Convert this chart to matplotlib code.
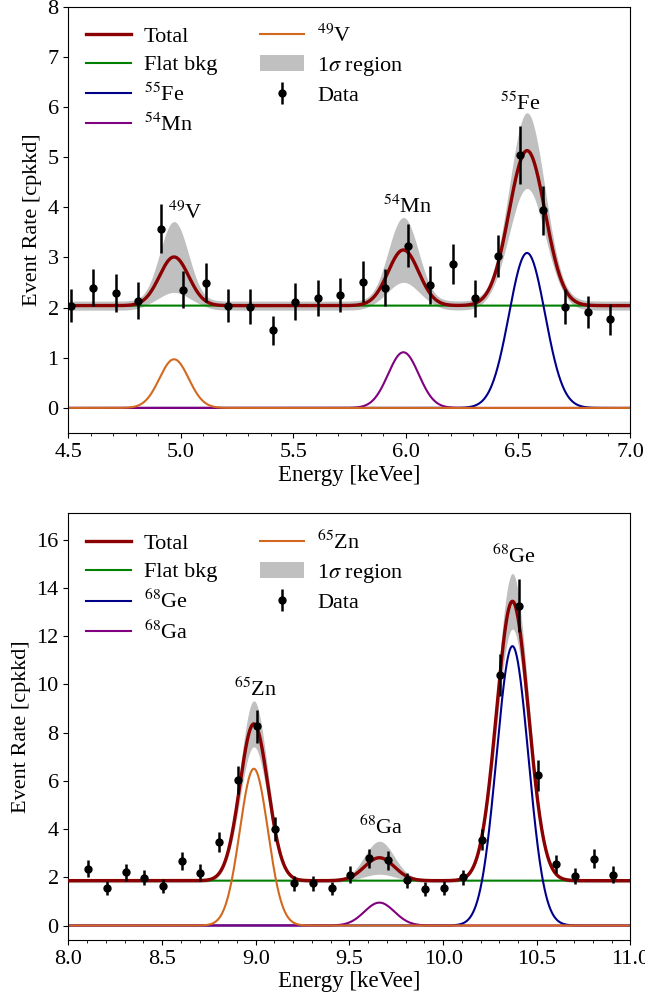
import numpy as np
import matplotlib.pyplot as plt
from matplotlib.ticker import MultipleLocator

plt.rcParams["font.family"] = ["Liberation Serif", "DejaVu Serif"]
plt.rcParams["mathtext.fontset"] = "stix"

# ---- 4.5-7.0 keVee window ----
e_low = [4.51, 4.61, 4.71, 4.81, 4.91, 5.01, 5.11, 5.21, 5.31, 5.41, 5.51, 5.61, 5.71,
         5.81, 5.91, 6.01, 6.11, 6.21, 6.31, 6.41, 6.51, 6.61, 6.71, 6.81, 6.91]
rate_low = [2.04, 2.40, 2.30, 2.14, 3.57, 2.36, 2.50, 2.04, 2.02, 1.55, 2.12, 2.20, 2.25,
            2.52, 2.40, 3.23, 2.45, 2.87, 2.19, 3.03, 5.05, 3.94, 2.02, 1.92, 1.77]
err_low = [0.33, 0.37, 0.38, 0.37, 0.49, 0.37, 0.39, 0.33, 0.35, 0.29, 0.37, 0.36, 0.34,
           0.40, 0.37, 0.43, 0.37, 0.40, 0.37, 0.41, 0.58, 0.49, 0.35, 0.32, 0.31]
bkg_low, bkg_err_low = 2.04, 0.09
# peak fit results: name, centre, sigma, amplitude, amplitude error, colour
peaks_low = [
    ("$^{55}$Fe", 6.54, 0.080, 3.09, 0.75, "darkblue"),
    ("$^{54}$Mn", 5.99, 0.068, 1.11, 0.64, "purple"),
    ("$^{49}$V", 4.97, 0.065, 0.97, 0.70, "chocolate"),
]
labels_low = [("$^{49}$V", 5.02, 3.90), ("$^{54}$Mn", 6.01, 4.02), ("$^{55}$Fe", 6.51, 6.07)]

# ---- 8.0-11.0 keVee window ----
e_high = [8.105, 8.205, 8.305, 8.405, 8.505, 8.605, 8.705, 8.805, 8.905, 9.005, 9.105,
          9.205, 9.305, 9.405, 9.505, 9.605, 9.705, 9.805, 9.905, 10.005, 10.105, 10.205,
          10.305, 10.405, 10.505, 10.605, 10.705, 10.805, 10.905]
rate_high = [2.36, 1.57, 2.20, 1.98, 1.62, 2.66, 2.19, 3.46, 6.03, 8.26, 4.00,
             1.75, 1.75, 1.54, 2.11, 2.78, 2.70, 1.87, 1.52, 1.54, 2.00, 3.55,
             10.37, 13.26, 6.23, 2.56, 2.05, 2.77, 2.11]
err_high = [0.34, 0.29, 0.36, 0.32, 0.29, 0.37, 0.34, 0.43, 0.58, 0.68, 0.48,
            0.30, 0.31, 0.27, 0.34, 0.40, 0.38, 0.32, 0.29, 0.29, 0.32, 0.44,
            0.87, 1.10, 0.65, 0.38, 0.34, 0.40, 0.34]
bkg_high, bkg_err_high = 1.86, 0.08
peaks_high = [
    ("$^{68}$Ge", 10.37, 0.085, 11.58, 1.15, "darkblue"),
    ("$^{68}$Ga", 9.66, 0.080, 0.95, 0.68, "purple"),
    ("$^{65}$Zn", 8.99, 0.075, 6.50, 0.95, "chocolate"),
]
labels_high = [("$^{65}$Zn", 9.00, 9.80), ("$^{68}$Ga", 9.67, 4.05), ("$^{68}$Ge", 10.38, 15.30)]


def gauss(x, mu, sig, amp):
    return amp * np.exp(-0.5 * ((x - mu) / sig) ** 2)


def draw_panel(ax, xr, energy, rate, err, bkg, bkg_err, peaks, labels, ylim, ymajor):
    x = np.linspace(xr[0], xr[1], 1500)
    shapes = [gauss(x, mu, s, a) for _, mu, s, a, _, _ in peaks]
    total = bkg + np.sum(shapes, axis=0)
    var = bkg_err ** 2 + sum((gauss(x, mu, s, 1.0) * da) ** 2 for _, mu, s, _, da, _ in peaks)
    band = np.sqrt(var)

    ax.fill_between(x, total - band, total + band, color="silver", lw=0, zorder=1,
                    label=r"1$\sigma$ region")
    ax.plot(x, total, color="darkred", lw=2.4, zorder=3, label="Total")
    ax.plot(x, np.full_like(x, bkg), color="green", lw=1.5, zorder=2, label="Flat bkg")
    for (name, *_, col), y in zip(peaks, shapes):
        ax.plot(x, y, color=col, lw=1.5, zorder=2, label=name)
    ax.errorbar(energy, rate, yerr=err, fmt="o", color="black", ms=5, elinewidth=1.8,
                capsize=0, zorder=4, label="Data")

    for txt, lx, ly in labels:
        ax.text(lx, ly, txt, ha="center", va="center", fontsize=16)

    ax.set_xlim(*xr)
    ax.set_ylim(*ylim)
    ax.xaxis.set_major_locator(MultipleLocator(0.5))
    ax.xaxis.set_minor_locator(MultipleLocator(0.1))
    ax.yaxis.set_major_locator(MultipleLocator(ymajor))
    ax.tick_params(labelsize=16)
    ax.set_xlabel("Energy [keVee]", fontsize=16.5, labelpad=2)
    ax.set_ylabel("Event Rate [cpkkd]", fontsize=16, labelpad=4)

    h, l = ax.get_legend_handles_labels()
    order = ["Total", "Flat bkg"] + [p[0] for p in peaks] + [r"1$\sigma$ region", "Data"]
    idx = [l.index(o) for o in order]
    ax.legend([h[i] for i in idx], [l[i] for i in idx], ncol=2, loc="upper left",
              frameon=False, fontsize=16, handletextpad=0.6, columnspacing=1.9,
              labelspacing=0.35, borderaxespad=0.4)


fig = plt.figure(figsize=(6.45, 10), dpi=100)
ax1 = fig.add_axes([0.106, 0.567, 0.8715, 0.4263])
ax2 = fig.add_axes([0.106, 0.060, 0.8715, 0.427])

draw_panel(ax1, (4.5, 7.0), e_low, rate_low, err_low, bkg_low, bkg_err_low,
           peaks_low, labels_low, (-0.5, 8.0), 1)
draw_panel(ax2, (8.0, 11.0), e_high, rate_high, err_high, bkg_high, bkg_err_high,
           peaks_high, labels_high, (-0.6, 17.1), 2)

fig.savefig("out.png", dpi=100)
